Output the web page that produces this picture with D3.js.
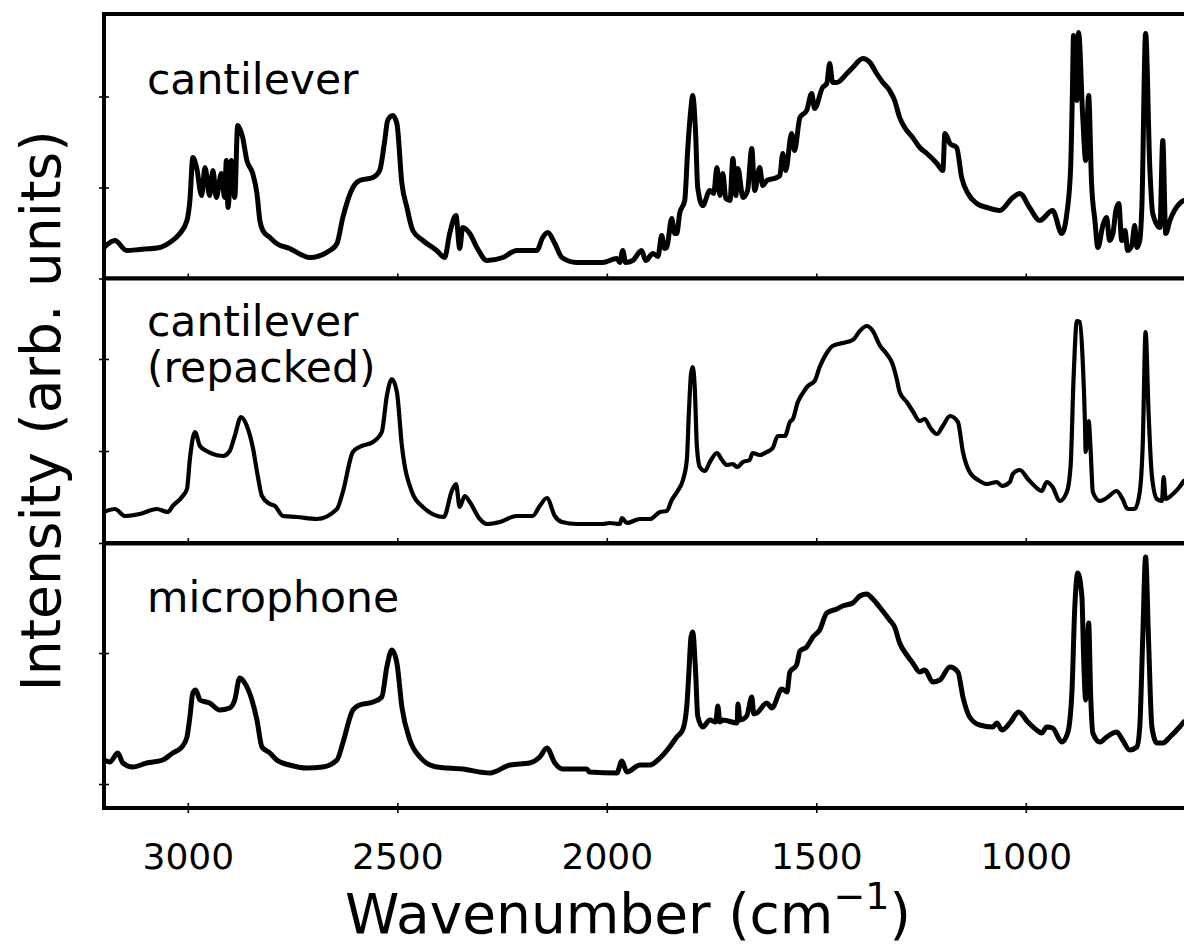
<!DOCTYPE html>
<html><head><meta charset="utf-8">
<script src="https://cdn.jsdelivr.net/npm/d3@7"></script>
<style>body{margin:0;background:#fff} svg{display:block} text{font-family:"DejaVu Sans",sans-serif;fill:#000}</style>
</head><body><svg id="c" width="1184" height="945"></svg>
<script>
// ---- data (wavenumber cm^-1, intensity arb. units) ----
const xTicks = [3000, 2500, 2000, 1500, 1000];
const panelLabels = [["cantilever"], ["cantilever", "(repacked)"], ["microphone"]];
const yTicks1 = [0, 91, 182];
const yTicks2 = [0, 92, 184];
const yTicks3 = [24, 155];
const cantilever = [[3200,31],[3174,38],[3146,28],[3115,29],[3067,31],[3043,36],[3019,45],[3002,58],[2995,78],[2988,121],[2979,111],[2967,83],[2959,111],[2948,83],[2940,108],[2932,81],[2920,105],[2912,81],[2908,118],[2904,71],[2896,118],[2888,81],[2881,153],[2869,141],[2859,118],[2845,105],[2835,85],[2828,58],[2821,48],[2804,41],[2788,35],[2757,30],[2709,21],[2661,28],[2644,35],[2630,61],[2606,91],[2590,98],[2558,101],[2542,108],[2530,138],[2523,158],[2511,163],[2501,155],[2489,95],[2477,71],[2463,48],[2439,38],[2406,28],[2387,21],[2375,45],[2360,63],[2351,30],[2344,51],[2327,45],[2310,31],[2286,18],[2248,21],[2215,28],[2167,28],[2153,41],[2141,46],[2124,35],[2107,21],[2072,16],[2010,16],[1976,20],[1969,16],[1962,28],[1955,16],[1938,18],[1917,28],[1907,18],[1890,25],[1878,22],[1869,43],[1862,30],[1857,31],[1845,60],[1838,45],[1833,45],[1826,65],[1814,78],[1807,128],[1799,171],[1795,183],[1788,145],[1783,91],[1771,73],[1754,88],[1745,85],[1737,111],[1730,83],[1723,105],[1716,80],[1706,78],[1699,120],[1692,83],[1687,110],[1675,81],[1664,88],[1654,130],[1647,88],[1635,111],[1628,93],[1618,98],[1594,101],[1587,103],[1580,125],[1573,108],[1559,145],[1552,128],[1539,161],[1523,168],[1511,185],[1504,170],[1485,191],[1475,195],[1468,215],[1461,196],[1451,196],[1427,205],[1413,211],[1389,220],[1372,216],[1356,205],[1341,196],[1325,188],[1313,178],[1301,161],[1289,151],[1270,141],[1253,131],[1236,125],[1212,115],[1198,108],[1193,145],[1181,135],[1165,131],[1153,101],[1138,85],[1117,75],[1093,71],[1062,68],[1031,81],[1014,85],[991,71],[967,58],[936,68],[914,45],[902,65],[893,110],[889,180],[886,243],[878,178],[874,246],[864,161],[857,118],[850,183],[843,95],[835,58],[828,31],[816,53],[807,61],[800,38],[792,45],[785,68],[778,75],[771,38],[763,48],[757,28],[747,33],[740,53],[735,31],[728,38],[723,71],[714,245],[704,111],[697,65],[680,51],[673,138],[666,45],[656,58],[633,75],[623,78]];
const repacked = [[3200,31],[3174,34],[3150,27],[3115,29],[3074,34],[3048,31],[3036,37],[3012,47],[3002,54],[2995,84],[2983,111],[2971,97],[2955,92],[2940,89],[2916,87],[2900,92],[2888,107],[2873,126],[2859,117],[2845,96],[2833,67],[2823,47],[2804,39],[2792,37],[2773,27],[2740,26],[2692,24],[2644,34],[2630,51],[2606,91],[2590,96],[2558,101],[2537,111],[2525,147],[2513,164],[2501,151],[2489,97],[2465,51],[2439,36],[2389,26],[2370,52],[2360,59],[2351,36],[2339,47],[2327,41],[2303,24],[2286,19],[2255,21],[2215,27],[2177,27],[2160,37],[2143,45],[2124,27],[2107,21],[2072,19],[2010,19],[1993,20],[1969,19],[1964,25],[1952,20],[1921,24],[1897,24],[1873,31],[1857,32],[1845,43],[1831,52],[1819,62],[1809,83],[1804,131],[1799,169],[1795,176],[1790,155],[1785,97],[1778,76],[1766,72],[1754,81],[1737,90],[1725,83],[1714,78],[1699,79],[1689,76],[1675,81],[1659,83],[1652,90],[1635,88],[1618,91],[1604,95],[1592,107],[1575,107],[1563,121],[1556,124],[1544,141],[1532,150],[1520,157],[1504,162],[1492,176],[1475,190],[1461,197],[1437,200],[1413,203],[1396,212],[1380,217],[1365,212],[1349,198],[1332,189],[1318,179],[1308,164],[1301,151],[1284,141],[1270,132],[1253,122],[1241,124],[1229,116],[1212,109],[1198,117],[1181,127],[1162,121],[1150,91],[1134,71],[1110,62],[1093,59],[1069,61],[1057,57],[1038,61],[1031,69],[1014,73],[995,64],[979,57],[962,52],[950,61],[936,56],[919,42],[902,51],[893,77],[886,164],[878,222],[871,221],[864,181],[859,124],[857,91],[850,122],[845,91],[840,51],[823,42],[807,45],[783,52],[769,44],[757,34],[740,34],[728,51],[721,97],[714,211],[707,131],[699,67],[687,44],[675,42],[671,66],[666,44],[649,49],[633,56],[623,62]];
const microphone = [[3200,48],[3186,46],[3167,55],[3155,45],[3131,41],[3098,45],[3060,48],[3036,55],[3014,61],[3002,71],[2995,91],[2988,115],[2981,118],[2971,108],[2948,105],[2924,98],[2900,100],[2888,108],[2876,130],[2864,125],[2847,108],[2835,88],[2823,61],[2804,55],[2788,48],[2757,43],[2716,40],[2678,41],[2644,48],[2630,65],[2606,98],[2590,103],[2558,106],[2537,111],[2525,141],[2513,158],[2501,145],[2489,101],[2470,68],[2446,51],[2406,41],[2344,39],[2279,35],[2231,43],[2184,45],[2160,51],[2143,60],[2124,45],[2105,39],[2048,39],[2041,36],[1976,35],[1964,47],[1952,36],[1921,43],[1897,43],[1873,50],[1850,61],[1833,71],[1819,78],[1809,102],[1804,136],[1799,171],[1795,176],[1788,136],[1783,92],[1771,81],[1754,88],[1740,86],[1735,102],[1730,86],[1723,88],[1689,85],[1687,104],[1682,88],[1666,92],[1654,111],[1649,94],[1642,95],[1618,105],[1606,100],[1582,119],[1570,116],[1563,136],[1547,143],[1539,157],[1523,161],[1508,171],[1492,178],[1475,195],[1451,199],[1437,202],[1413,205],[1396,212],[1380,214],[1365,209],[1349,201],[1325,188],[1313,181],[1301,165],[1284,153],[1270,145],[1253,136],[1241,138],[1222,126],[1205,128],[1181,141],[1162,136],[1150,111],[1134,91],[1110,83],[1079,81],[1069,85],[1057,78],[1038,85],[1017,96],[995,86],[974,78],[962,75],[950,81],[936,80],[914,66],[900,75],[890,115],[883,201],[876,235],[866,211],[862,151],[857,108],[850,185],[845,111],[840,75],[823,66],[807,71],[783,76],[769,68],[752,58],[735,61],[728,81],[721,168],[714,251],[707,168],[699,81],[687,65],[673,65],[656,71],[633,81],[623,86]];

const series = [cantilever, repacked, microphone];
const yTickSets = [yTicks1, yTicks2, yTicks3];
const noisy = [true, false, true];

// ---- layout ----
const svg = d3.select("#c");
const left = 104, right = 1185;
const panelTops = [14, 278.5, 543.5];
const panelH = 264.5;
const x = d3.scaleLinear().domain([3200, 620]).range([left, right]);

panelTops.forEach((top, i) => {
  const bottom = top + panelH;
  const y = d3.scaleLinear().domain([0, panelH]).range([bottom, top]);
  const g = svg.append("g");
  g.append("rect").attr("x", left).attr("y", top).attr("width", 1200 - left).attr("height", panelH).attr("fill", "#fff");
  const cid = "clip" + i;
  g.append("clipPath").attr("id", cid).append("rect").attr("x", left).attr("y", top).attr("width", 1200 - left).attr("height", panelH);
  const line = d3.line().curve(d3.curveMonotoneX).x(d => x(d[0])).y(d => y(d[1]));
  g.append("path").datum(series[i]).attr("clip-path", `url(#${cid})`)
    .attr("d", line).attr("fill", "none").attr("stroke", "#000")
    .attr("stroke-width", noisy[i] ? 5 : 4.2).attr("stroke-linejoin", "round").attr("stroke-linecap", "round");

  // y ticks (in-out)
  const ya = g.append("g").attr("transform", `translate(${left},0)`)
    .call(d3.axisLeft(y).tickValues(yTickSets[i]).tickFormat(""));
  ya.select(".domain").remove();
  ya.selectAll(".tick line").attr("x1", -5).attr("x2", 5).attr("stroke", "#000").attr("stroke-width", 1.6);

  // x ticks (in-out)
  const xa = g.append("g").attr("transform", `translate(0,${bottom})`)
    .call(d3.axisBottom(x).tickValues(xTicks).tickFormat(i === 2 ? d3.format("d") : ""));
  xa.select(".domain").remove();
  xa.selectAll(".tick line").attr("y1", -5).attr("y2", 5).attr("stroke", "#000").attr("stroke-width", 1.6);
  xa.selectAll(".tick text").attr("y", 61).attr("dy", null)
    .style("font-size", "36px").style("font-family", '"DejaVu Sans", sans-serif').attr("fill", "#000");

  // frame
  g.append("rect").attr("x", left).attr("y", top).attr("width", 1300).attr("height", panelH)
    .attr("fill", "none").attr("stroke", "#000").attr("stroke-width", 4);

  // panel label
  const lb = [[94], [336, 382], [612]][i];
  panelLabels[i].forEach((t, k) => {
    g.append("text").attr("x", 147).attr("y", lb[k]).style("font-size", "42.5px").text(t);
  });
});

// axis titles
const xl = svg.append("text").attr("x", 628).attr("y", 933).attr("text-anchor", "middle").style("font-size", "55px");
xl.append("tspan").text("Wavenumber (cm");
xl.append("tspan").attr("dy", -24).style("font-size", "38px").text("\u22121");
xl.append("tspan").attr("dy", 24).text(")");

svg.append("text").attr("transform", "translate(60,411) rotate(-90)").attr("text-anchor", "middle")
  .style("font-size", "55px").text("Intensity (arb. units)");
</script></body></html>
